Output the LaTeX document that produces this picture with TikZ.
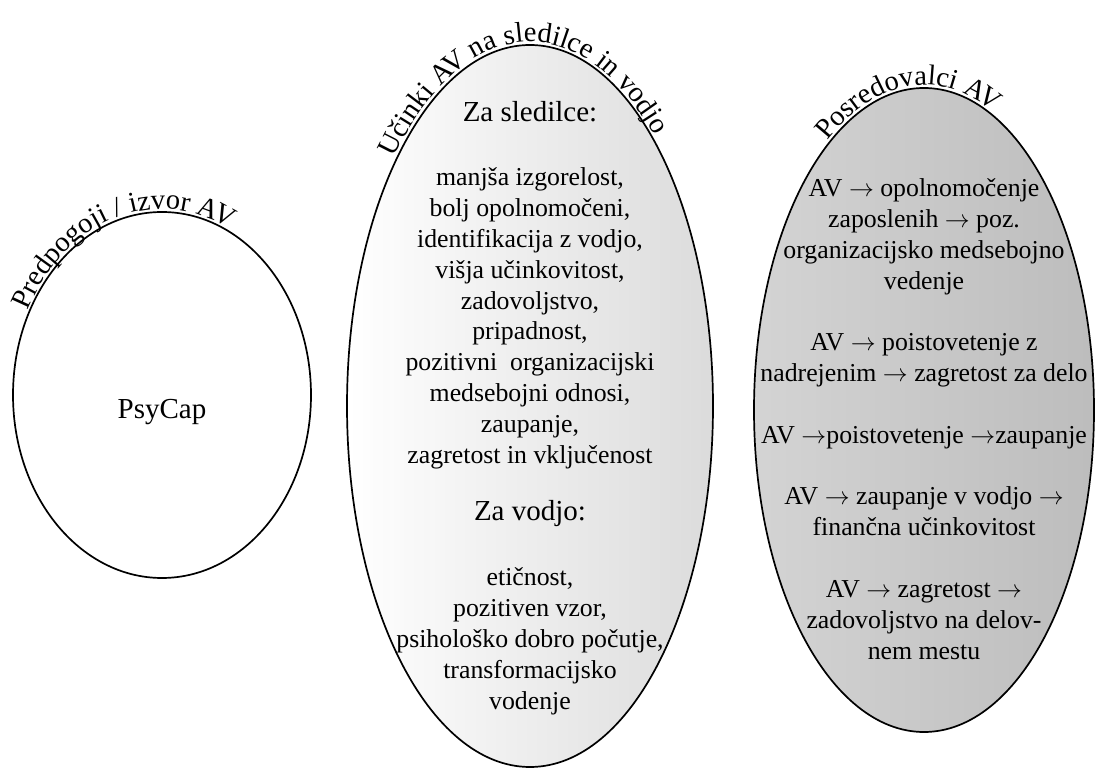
\documentclass[tikz,border=0pt]{standalone}
\usepackage{fontspec}
\setmainfont{Liberation Serif}
\usetikzlibrary{shapes.geometric,decorations.text,calc}
\newcommand{\bodysize}{\fontsize{25.8pt}{30.8pt}\selectfont}
\newcommand{\headsize}{\fontsize{29pt}{34pt}\selectfont}
\newcommand{\arcsize}{\fontsize{28.5pt}{34pt}\selectfont}
\newcommand{\ar}{\ensuremath{\rightarrow}}

\begin{document}
\begin{tikzpicture}[x=1pt,y=1pt,
  oval/.style={ellipse, draw=black, line width=1.7pt, inner sep=0pt},
  bodyline/.style={anchor=base, inner sep=0pt, font=\bodysize},
  headline/.style={anchor=base, inner sep=0pt, font=\headsize},
  arclabel/.style={decorate, decoration={text along path, text align=left, text={#1}}}
]
% page
\fill[white] (0,0) rectangle (1095,769);
\useasboundingbox (0,0) rectangle (1095,769);

% the three ovals
\node[oval, fill=white, minimum width=298pt, minimum height=366pt] (pre) at (162,374) {};
\node[oval, left color=white, right color=gray!28, minimum width=366pt, minimum height=722pt] (eff) at (530,363) {};
\node[oval, left color=gray!34, right color=gray!52, minimum width=340pt, minimum height=644pt] (med) at (924,359) {};

% titles bent along the top of each oval
\path[arclabel={|\arcsize|Predpogoji / izvor A{\kern-4pt V}}]
  ($(pre.center)+(153:151pt and 186pt)$) arc[start angle=153, end angle=15, x radius=151pt, y radius=186pt];
\path[arclabel={|\arcsize|Učinki A{\kern-4pt V} na sledilce in vodjo}]
  ($(eff.center)+(137:186pt and 364pt)$) arc[start angle=137, end angle=20, x radius=186pt, y radius=364pt];
\path[arclabel={|\arcsize|Posredovalci A{\kern-4pt V}}]
  ($(med.center)+(124:173pt and 325pt)$) arc[start angle=124, end angle=30, x radius=173pt, y radius=325pt];

% antecedent
\node[headline] (psycap) at (162,350) {PsyCap};

% effects
\node[headline] (fhead) at (530,647) {Za sledilce:};
\node[bodyline] (f1) at (530,583) {manjša izgorelost,};
\node[bodyline] (f2) at (530,552.2) {bolj opolnomočeni,};
\node[bodyline] (f3) at (530,521.4) {identifikacija z vodjo,};
\node[bodyline] (f4) at (530,490.6) {višja učinkovitost,};
\node[bodyline] (f5) at (530,459.8) {zadovoljstvo,};
\node[bodyline] (f6) at (530,429) {pripadnost,};
\node[bodyline] (f7) at (530,398.2) {pozitivni\ \ organizacijski};
\node[bodyline] (f8) at (530,367.4) {medsebojni odnosi,};
\node[bodyline] (f9) at (530,336.6) {zaupanje,};
\node[bodyline] (f10) at (530,305.8) {zagretost in vključenost};
\node[headline] (lhead) at (530,248) {Za vodjo:};
\node[bodyline] (l1) at (530,183) {etičnost,};
\node[bodyline] (l2) at (530,152.2) {pozitiven vzor,};
\node[bodyline] (l3) at (530,121.4) {psihološko dobro počutje,};
\node[bodyline] (l4) at (530,90.6) {transformacijsko};
\node[bodyline] (l5) at (530,59.8) {vodenje};

% mediators
\node[bodyline] (m1) at (924,572) {AV \ar{} opolnomočenje};
\node[bodyline] (m2) at (924,541.2) {zaposlenih \ar{} poz.};
\node[bodyline] (m3) at (924,510.4) {organizacijsko medsebojno};
\node[bodyline] (m4) at (924,479.6) {vedenje};
\node[bodyline] (m5) at (924,418) {AV \ar{} poistovetenje z};
\node[bodyline] (m6) at (924,387.2) {nadrejenim \ar{} zagretost za delo};
\node[bodyline] (m7) at (924,325.6) {AV \ar{}poistovetenje \ar{}zaupanje};
\node[bodyline] (m8) at (924,264) {AV \ar{} zaupanje v vodjo \ar};
\node[bodyline] (m9) at (924,233.2) {finančna učinkovitost};
\node[bodyline] (m10) at (924,171.6) {AV \ar{} zagretost \ar};
\node[bodyline] (m11) at (924,140.8) {zadovoljstvo na delov-};
\node[bodyline] (m12) at (924,110) {nem mestu};
\end{tikzpicture}
\end{document}
